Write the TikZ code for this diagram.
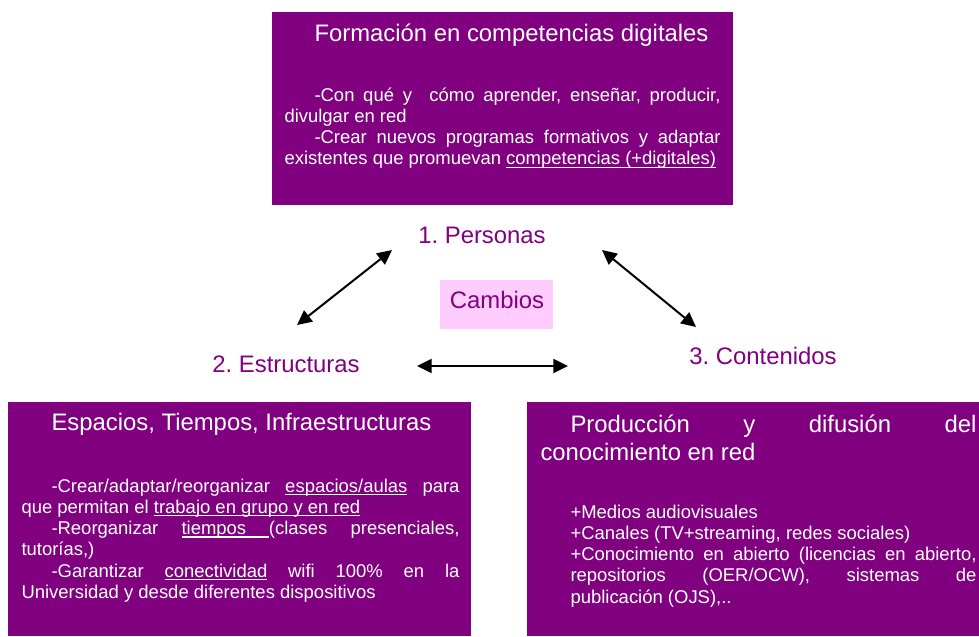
\documentclass[tikz,border=0pt]{standalone}
\usepackage{fontspec}
\setmainfont{Liberation Sans}
\usetikzlibrary{arrows.meta}

\definecolor{boxpurple}{RGB}{128,0,128}
\definecolor{cambiospink}{RGB}{255,204,255}

\frenchspacing
\newcommand{\titlefont}{\fontsize{17.9pt}{21pt}\selectfont}
\newcommand{\bodyfont}{\fontsize{13.85pt}{15.9pt}\selectfont}
\newcommand{\boxsetup}{\parindent=22.5pt \parskip=0pt \leftskip=0pt \rightskip=0pt
  \parfillskip=0pt plus 1fil \hyphenpenalty=10000 \exhyphenpenalty=10000
  \tolerance=10000 \hbadness=10000 \bodyfont}
\newcommand{\ulin}[1]{\leavevmode{\setbox0\hbox{#1}\rlap{\vrule height -1.3pt depth 2.3pt width \wd0}\box0}}

\tikzset{every picture/.style={line width=0.75pt}}

\begin{document}
\begin{tikzpicture}[x=0.75pt,y=0.75pt,yscale=-1,xscale=1,
  purplebox/.style={fill=boxpurple, draw=none},
  boxtext/.style={text=white, inner sep=0pt, anchor=base west, font=\bodyfont},
  ejetext/.style={text=boxpurple, font=\titlefont, inner sep=0pt, anchor=base},
  arr/.style={line width=1.5pt, {Triangle[length=11pt,width=10.5pt]}-{Triangle[length=11pt,width=10.5pt]}}
]
\useasboundingbox (0,0) rectangle (979,636);

%Shape: Rectangle
\draw [purplebox] (272,12) rectangle (733,205);
%Shape: Rectangle
\draw [purplebox] (8,402) rectangle (471,636);
%Shape: Rectangle
\draw [purplebox] (527,402) rectangle (979,636);
%Shape: Rectangle
\draw [fill=cambiospink, draw=none] (440,280) rectangle (553,329);

% Text Node
\node [boxtext] (formacion) at (284,41) {\begin{minipage}[t]{327pt}\boxsetup
{\titlefont\noindent\hspace*{22.5pt}Formación en competencias digitales\par}
\vspace{29.25pt}
-Con qué y\ \ cómo aprender, enseñar, producir,\linebreak divulgar en red\par
-Crear nuevos programas formativos y adaptar\linebreak existentes que promuevan \ulin{competencias (+digitales)}\par
\end{minipage}};

% Text Node
\node [boxtext] (espacios) at (21,430) {\begin{minipage}[t]{328.5pt}\boxsetup
{\titlefont\noindent\hspace*{22.5pt}Espacios, Tiempos, Infraestructuras\par}
\vspace{30.75pt}
-Crear/adaptar/reorganizar \ulin{espacios/aulas} para\linebreak que permitan el \ulin{trabajo en grupo y en red}\par
-Reorganizar \ulin{tiempos\hspace{17pt}}(clases presenciales,\linebreak tutorías,)\par
-Garantizar \ulin{conectividad} wifi 100\% en la\linebreak Universidad y desde diferentes dispositivos\par
\end{minipage}};

% Text Node
\node [boxtext] (produccion) at (540,432) {\begin{minipage}[t]{327pt}\boxsetup
{\titlefont\noindent\hspace*{22.5pt}Producción y difusión del\linebreak conocimiento en red\par}
\vspace{27.75pt}
{\leftskip=22.5pt \parindent=0pt
+Medios audiovisuales\par
+Canales (TV+streaming, redes sociales)\par
+Conocimiento en abierto (licencias en abierto,\linebreak repositorios (OER/OCW), sistemas de\linebreak publicación (OJS),..\par}
\end{minipage}};

% Text Node
\node [ejetext] (personas) at (482,243) {1. Personas};
% Text Node
\node [ejetext] (estructuras) at (286,372) {2. Estructuras};
% Text Node
\node [ejetext] (contenidos) at (763,364) {3. Contenidos};
% Text Node
\node [ejetext] (cambios) at (497,308) {Cambios};

\coordinate (perA) at (392,250);
\coordinate (estA) at (297,325);
\coordinate (perB) at (602,250);
\coordinate (conB) at (696,327);
\coordinate (estC) at (417,366);
\coordinate (conC) at (568,366);

%Straight Lines
\draw [arr] (perA) -- (estA);
%Straight Lines
\draw [arr] (perB) -- (conB);
%Straight Lines
\draw [arr] (estC) -- (conC);

\end{tikzpicture}
\end{document}
